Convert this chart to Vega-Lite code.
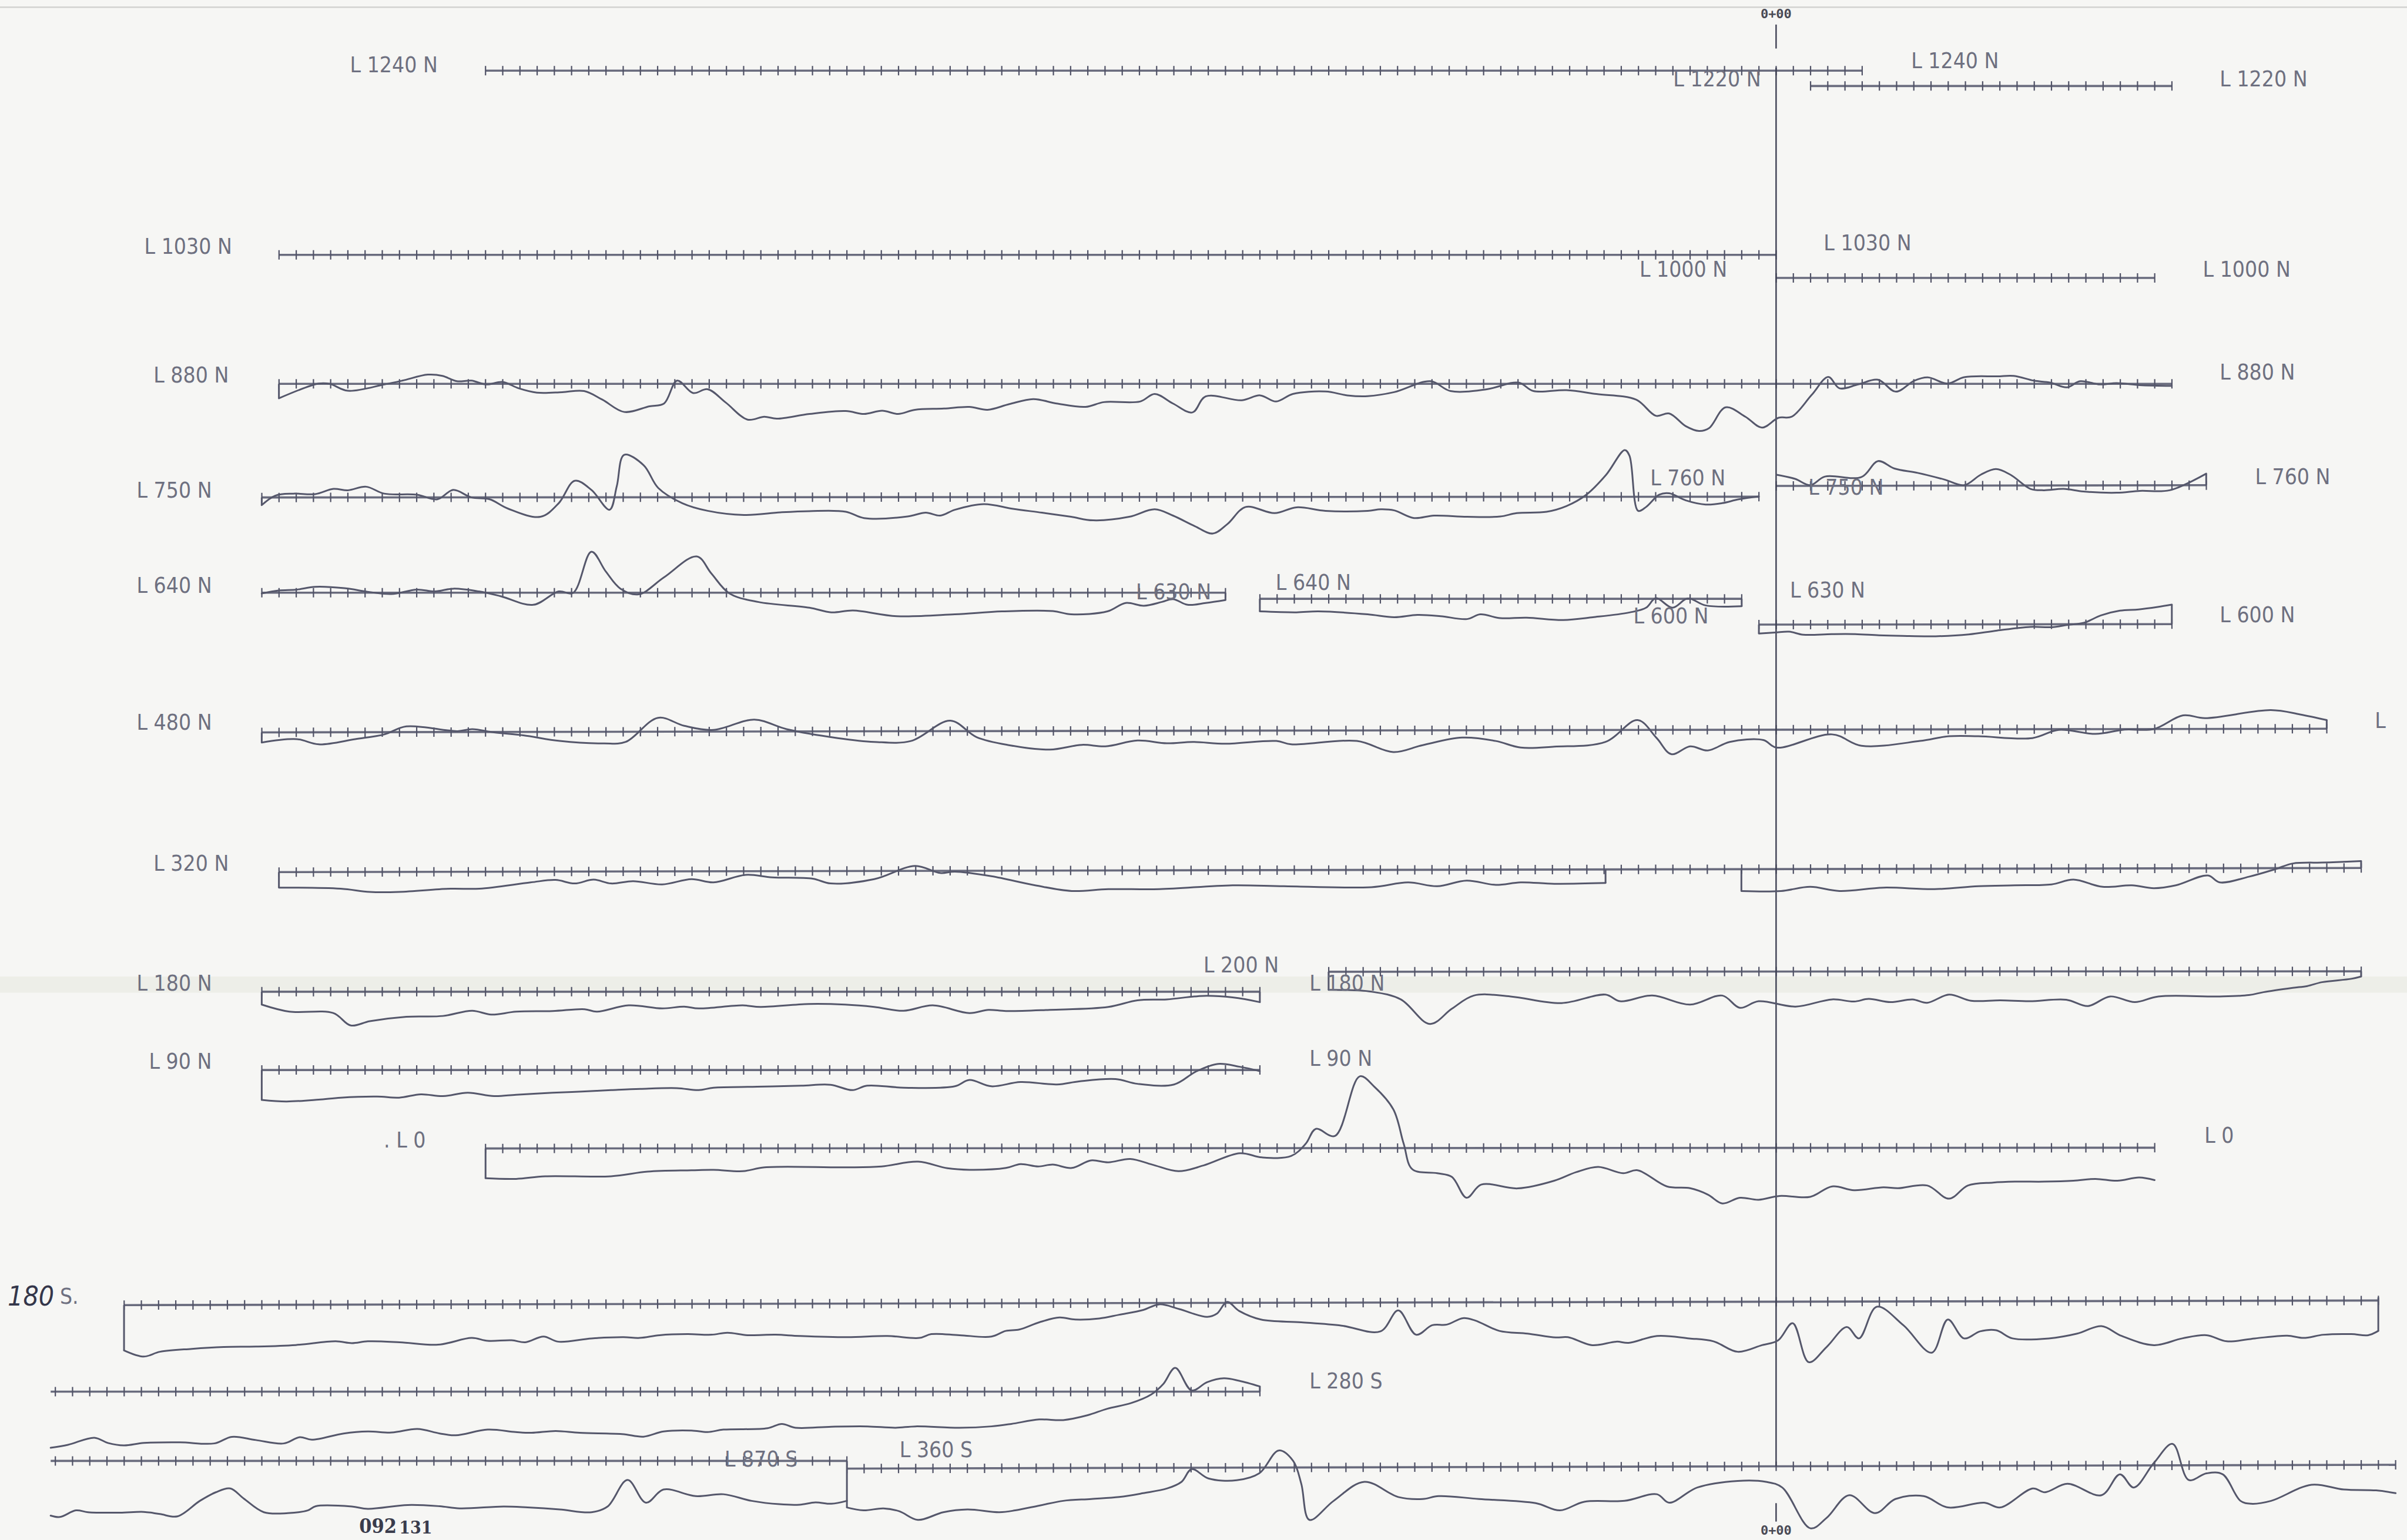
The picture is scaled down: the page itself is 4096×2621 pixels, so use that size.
{
"$schema":"https://vega.github.io/schema/vega-lite/v6.json",
"width":4096,"height":2621,
"autosize":{"type":"none"},
"padding":0,
"background":"#f6f6f4",
"config":{"view":{"stroke":null}},
"datasets":{
"base":[
{"x":316.3,"x2":1213.05,"y":46,"y2":46,"t":315.87,"t2":1213.5},
{"x":1179.4,"x2":1414.8,"y":56,"y2":56,"t":1179.04,"t2":1415.28},
{"x":181.7,"x2":1157,"y":166,"y2":166,"t":181.35,"t2":1157.45},
{"x":1157,"x2":1403.6,"y":181,"y2":181,"t":1156.62,"t2":1404.07},
{"x":181.7,"x2":1414.8,"y":250,"y2":250,"t":181.35,"t2":1415.28},
{"x":170.5,"x2":1145.8,"y":324,"y2":323.5,"t":170.14,"t2":1146.24},
{"x":1157,"x2":1437.2,"y":316.5,"y2":316,"t":1156.62,"t2":1437.7},
{"x":170.5,"x2":798.3,"y":386,"y2":386,"t":170.14,"t2":798.73},
{"x":820.7,"x2":1134.6,"y":390,"y2":390,"t":820.32,"t2":1135.03},
{"x":1145.8,"x2":1414.8,"y":406.8,"y2":406.5,"t":1145.41,"t2":1415.28},
{"x":170.5,"x2":1515.7,"y":477,"y2":474.6,"t":170.14,"t2":1516.17},
{"x":181.7,"x2":1538.1,"y":568,"y2":565.3,"t":181.35,"t2":1538.59},
{"x":170.5,"x2":820.7,"y":645.9,"y2":645.9,"t":170.14,"t2":821.15},
{"x":865.5,"x2":1538.1,"y":632.9,"y2":632.6,"t":865.16,"t2":1538.59},
{"x":170.5,"x2":820.7,"y":696.9,"y2":696.9,"t":170.14,"t2":821.15},
{"x":316.3,"x2":1403.6,"y":748,"y2":747.5,"t":315.87,"t2":1404.07},
{"x":80.8,"x2":1549.3,"y":850,"y2":847,"t":80.46,"t2":1549.8},
{"x":33,"x2":820.7,"y":906.4,"y2":906.4,"t":35.63,"t2":821.15},
{"x":33,"x2":551.7,"y":951.5,"y2":951.5,"t":35.63,"t2":552.11},
{"x":551.7,"x2":1560.6,"y":956.5,"y2":954,"t":551.28,"t2":1561.01}
],
"bars":[
{"x":181.7,"y":250,"y2":259.4},{"x":170.5,"y":324,"y2":329},{"x":1437.2,"y":308.5,"y2":316},{"x":798.3,"y":386,"y2":390.8},
{"x":820.7,"y":390,"y2":398.2},{"x":1134.6,"y":390,"y2":394.8},{"x":1145.8,"y":406.8,"y2":412.6},{"x":1414.8,"y":393.8,"y2":406.5},
{"x":170.5,"y":477,"y2":483.6},{"x":1515.7,"y":469,"y2":474.6},{"x":181.7,"y":568,"y2":578.1},{"x":1045.9,"y":566.3,"y2":575.1},
{"x":1134.4,"y":566.5,"y2":580.3},{"x":1538.1,"y":560.8,"y2":565.3},{"x":170.5,"y":645.9,"y2":654.3},{"x":820.7,"y":645.9,"y2":652.7},
{"x":865.5,"y":632.9,"y2":644.7},{"x":1538.1,"y":632.6,"y2":636},{"x":170.5,"y":696.9,"y2":716.4},{"x":316.3,"y":748,"y2":767.4},
{"x":80.8,"y":850,"y2":879.5},{"x":1549.3,"y":845,"y2":866.8},{"x":820.7,"y":903,"y2":906.4},{"x":551.7,"y":951.5,"y2":981.8}
],
"zero":[
{"x":1157,"y":16,"y2":31.6},
{"x":1157,"y":44,"y2":955},
{"x":1157,"y":979,"y2":991}
],
"labels":[
{"t":"L 1240 N","x":228,"y":43},{"t":"L 1240 N","x":1245,"y":40},
{"t":"L 1220 N","x":1090,"y":52},{"t":"L 1220 N","x":1446,"y":52},
{"t":"L 1030 N","x":94,"y":161},{"t":"L 1030 N","x":1188,"y":159},
{"t":"L 1000 N","x":1068,"y":176},{"t":"L 1000 N","x":1435,"y":176},
{"t":"L 880 N","x":100,"y":245},{"t":"L 880 N","x":1446,"y":243},
{"t":"L 750 N","x":89,"y":320},{"t":"L 750 N","x":1178,"y":318},
{"t":"L 760 N","x":1075,"y":312},{"t":"L 760 N","x":1469,"y":311},
{"t":"L 640 N","x":89,"y":382},{"t":"L 640 N","x":831,"y":380},
{"t":"L 630 N","x":740,"y":386},{"t":"L 630 N","x":1166,"y":385},
{"t":"L 600 N","x":1064,"y":402},{"t":"L 600 N","x":1446,"y":401},
{"t":"L 480 N","x":89,"y":471},{"t":"L","x":1547,"y":470},
{"t":"L 320 N","x":100,"y":563},
{"t":"L 180 N","x":89,"y":641},{"t":"L 180 N","x":853,"y":641},
{"t":"L 200 N","x":784,"y":629},
{"t":"L 90 N","x":97,"y":692},{"t":"L 90 N","x":853,"y":690},
{"t":". L 0","x":250,"y":743},{"t":"L 0","x":1436,"y":740},
{"t":"L 280 S","x":853,"y":900},
{"t":"L 870 S","x":472,"y":951},
{"t":"L 360 S","x":586,"y":945}
],
"curves":[
{"s":"E","x":181.7,"y":259.4},{"s":"E","x":207.7,"y":249.8},{"s":"E","x":214.8,"y":250},{"s":"E","x":226.6,"y":254.5},{"s":"E","x":250.3,"y":250.4},{"s":"E","x":262.1,"y":247.9},{"s":"E","x":278.7,"y":244},{"s":"E","x":288.2,"y":244.8},{"s":"E","x":297.6,"y":248.3},{"s":"E","x":307.1,"y":247.9},{"s":"E","x":316.6,"y":250.4},{"s":"E","x":327.5,"y":248.8},{"s":"E","x":337.9,"y":252.9},{"s":"E","x":349.7,"y":255.7},{"s":"E","x":366.3,"y":255.4},{"s":"E","x":380.5,"y":254.7},{"s":"E","x":392.4,"y":260.3},{"s":"E","x":406.6,"y":268.3},{"s":"E","x":423.1,"y":264.6},{"s":"E","x":432.6,"y":262.8},{"s":"E","x":441.1,"y":247.9},{"s":"E","x":451.5,"y":256},{"s":"E","x":461,"y":253.5},{"s":"E","x":472.8,"y":262.2},{"s":"E","x":487,"y":273.3},{"s":"E","x":497.9,"y":271.4},{"s":"E","x":506,"y":272.7},{"s":"E","x":527.3,"y":269.6},{"s":"E","x":551,"y":267.7},{"s":"E","x":562.8,"y":269.6},{"s":"E","x":574.7,"y":267.5},{"s":"E","x":585,"y":269.6},{"s":"E","x":596,"y":266.9},{"s":"E","x":614.9,"y":266.1},{"s":"E","x":631.5,"y":265},{"s":"E","x":643.3,"y":266.9},{"s":"E","x":657.5,"y":263.2},{"s":"E","x":673.1,"y":259.9},{"s":"E","x":688.3,"y":262.8},{"s":"E","x":707.2,"y":265},{"s":"E","x":719.1,"y":261.9},{"s":"E","x":742.7,"y":261.5},{"s":"E","x":752.2,"y":256.6},{"s":"E","x":764.1,"y":262.8},{"s":"E","x":776.8,"y":268.6},{"s":"E","x":785.4,"y":258.2},{"s":"E","x":809,"y":260.7},{"s":"E","x":820.9,"y":257.5},{"s":"E","x":831.3,"y":261.5},{"s":"E","x":842.2,"y":256.6},{"s":"E","x":863.5,"y":255},{"s":"E","x":877.7,"y":257.5},{"s":"E","x":890.9,"y":258},{"s":"E","x":908.2,"y":255.4},{"s":"E","x":931.9,"y":248.3},{"s":"E","x":944.9,"y":254.7},{"s":"E","x":968.6,"y":253.5},{"s":"E","x":989.3,"y":249.2},{"s":"E","x":998.9,"y":254.7},{"s":"E","x":1020.4,"y":254.1},{"s":"E","x":1039.9,"y":256.6},{"s":"E","x":1065.8,"y":260.3},{"s":"E","x":1078.7,"y":270.8},{"s":"E","x":1087.4,"y":269.3},{"s":"E","x":1098.2,"y":277.6},{"s":"E","x":1106.8,"y":280.7},{"s":"E","x":1113.3,"y":278.9},{"s":"E","x":1124.1,"y":265.3},{"s":"E","x":1137,"y":271.4},{"s":"E","x":1147.8,"y":278.5},{"s":"E","x":1158.6,"y":272.1},{"s":"E","x":1167.2,"y":271.4},{"s":"E","x":1180.2,"y":257.2},{"s":"E","x":1191,"y":245.5},{"s":"E","x":1198.3,"y":252.9},{"s":"E","x":1210.4,"y":250.4},{"s":"E","x":1223.4,"y":247.3},{"s":"E","x":1235,"y":255.1},{"s":"E","x":1247.1,"y":247.9},{"s":"E","x":1255.8,"y":245.8},{"s":"E","x":1268.7,"y":249.8},{"s":"E","x":1279.5,"y":245.7},{"s":"E","x":1301.1,"y":245.1},{"s":"E","x":1311.9,"y":244.8},{"s":"E","x":1324.9,"y":247.9},{"s":"E","x":1335.7,"y":249.2},{"s":"E","x":1346.4,"y":252.3},{"s":"E","x":1355.1,"y":248.3},{"s":"E","x":1368.1,"y":250.4},{"s":"E","x":1378.8,"y":249.5},{"s":"E","x":1394,"y":250.8},{"s":"E","x":1414.8,"y":251.3},
{"s":"F","x":170.5,"y":329},{"s":"F","x":179.3,"y":322.8},{"s":"F","x":191.1,"y":321.5},{"s":"F","x":205.3,"y":321.8},{"s":"F","x":217.2,"y":318.4},{"s":"F","x":226.6,"y":319.3},{"s":"F","x":238.5,"y":317},{"s":"F","x":250.3,"y":321.5},{"s":"F","x":271.6,"y":322.2},{"s":"F","x":284.9,"y":325.2},{"s":"F","x":295.3,"y":319.1},{"s":"F","x":307.1,"y":324},{"s":"F","x":319,"y":325.2},{"s":"F","x":330.8,"y":331.2},{"s":"F","x":352.1,"y":336.6},{"s":"F","x":364,"y":327.7},{"s":"F","x":374.4,"y":313.1},{"s":"F","x":385.3,"y":319.1},{"s":"F","x":397.1,"y":332},{"s":"F","x":401.8,"y":316.6},{"s":"F","x":406.6,"y":296.2},{"s":"F","x":419.3,"y":303},{"s":"F","x":428.8,"y":317.8},{"s":"F","x":444.4,"y":327.7},{"s":"F","x":461,"y":332.7},{"s":"F","x":484.7,"y":335.4},{"s":"F","x":508.4,"y":333.7},{"s":"F","x":527.3,"y":332.9},{"s":"F","x":551,"y":333.3},{"s":"F","x":562.8,"y":337.4},{"s":"F","x":591.2,"y":336.4},{"s":"F","x":603.1,"y":333.9},{"s":"F","x":612.5,"y":335.8},{"s":"F","x":622,"y":332},{"s":"F","x":640.9,"y":328.3},{"s":"F","x":659.9,"y":331.4},{"s":"F","x":678.8,"y":333.9},{"s":"F","x":697.8,"y":336.6},{"s":"F","x":712,"y":338.9},{"s":"F","x":735.6,"y":336.6},{"s":"F","x":752.2,"y":331.7},{"s":"F","x":764.1,"y":335.8},{"s":"F","x":778.2,"y":342.6},{"s":"F","x":790.1,"y":347.5},{"s":"F","x":799.6,"y":341.3},{"s":"F","x":811.4,"y":330.2},{"s":"F","x":830.3,"y":334.2},{"s":"F","x":844.6,"y":330.4},{"s":"F","x":863.5,"y":332.7},{"s":"F","x":890.9,"y":332.7},{"s":"F","x":899.5,"y":331.7},{"s":"F","x":908.2,"y":332.4},{"s":"F","x":921.1,"y":337.4},{"s":"F","x":934.1,"y":335.8},{"s":"F","x":955.7,"y":336.6},{"s":"F","x":977.3,"y":336.4},{"s":"F","x":988.1,"y":334.2},{"s":"F","x":1007.5,"y":333.3},{"s":"F","x":1020.4,"y":329.6},{"s":"F","x":1033.4,"y":322.2},{"s":"F","x":1046.3,"y":309.2},{"s":"F","x":1058.4,"y":293.1},{"s":"F","x":1061.5,"y":296.8},{"s":"F","x":1067.1,"y":332.7},{"s":"F","x":1072.3,"y":330.2},{"s":"F","x":1080.9,"y":322.2},{"s":"F","x":1087.4,"y":321.3},{"s":"F","x":1098.2,"y":325.9},{"s":"F","x":1111.1,"y":328.6},{"s":"F","x":1121.9,"y":327.7},{"s":"F","x":1132.7,"y":325.2},{"s":"F","x":1145.8,"y":323.4},
{"s":"G","x":1157.3,"y":309.2},{"s":"G","x":1169.4,"y":311.9},{"s":"G","x":1179.3,"y":316},{"s":"G","x":1188.8,"y":310.4},{"s":"G","x":1212.6,"y":310.7},{"s":"G","x":1223.4,"y":300.3},{"s":"G","x":1234.2,"y":305.2},{"s":"G","x":1249.3,"y":308},{"s":"G","x":1266.6,"y":312.3},{"s":"G","x":1279.5,"y":316},{"s":"G","x":1290.3,"y":309.2},{"s":"G","x":1300.2,"y":305.5},{"s":"G","x":1309.7,"y":309.2},{"s":"G","x":1322.7,"y":318.4},{"s":"G","x":1331.3,"y":319.3},{"s":"G","x":1344.3,"y":318.4},{"s":"G","x":1357.2,"y":320.1},{"s":"G","x":1378.8,"y":320.9},{"s":"G","x":1394,"y":319.7},{"s":"G","x":1413.4,"y":319.3},{"s":"G","x":1437.2,"y":308.5},
{"s":"H","x":170.5,"y":386.5},{"s":"H","x":181.6,"y":384.6},{"s":"H","x":193.5,"y":384},{"s":"H","x":205.3,"y":382.2},{"s":"H","x":224.3,"y":383.1},{"s":"H","x":240.8,"y":385.6},{"s":"H","x":255,"y":386.9},{"s":"H","x":271.6,"y":384},{"s":"H","x":283.4,"y":385.2},{"s":"H","x":295.3,"y":383.4},{"s":"H","x":311.9,"y":385.2},{"s":"H","x":326.1,"y":388.3},{"s":"H","x":347.4,"y":393.9},{"s":"H","x":364,"y":385.2},{"s":"H","x":373.4,"y":386.1},{"s":"H","x":385.3,"y":359.3},{"s":"H","x":394.7,"y":372.3},{"s":"H","x":404.2,"y":383.4},{"s":"H","x":416,"y":387.1},{"s":"H","x":432.6,"y":376},{"s":"H","x":453.9,"y":362.4},{"s":"H","x":463.4,"y":373.5},{"s":"H","x":475.2,"y":386.5},{"s":"H","x":494.2,"y":392.1},{"s":"H","x":527.3,"y":395.8},{"s":"H","x":541.5,"y":398.8},{"s":"H","x":555.7,"y":397.6},{"s":"H","x":584.1,"y":401.3},{"s":"H","x":622,"y":400.1},{"s":"H","x":652.8,"y":398.2},{"s":"H","x":685.9,"y":398},{"s":"H","x":697.8,"y":400.1},{"s":"H","x":721.4,"y":398.2},{"s":"H","x":733.3,"y":392.7},{"s":"H","x":745.1,"y":394.5},{"s":"H","x":757,"y":392},{"s":"H","x":764.1,"y":390.2},{"s":"H","x":773.6,"y":393.9},{"s":"H","x":785.4,"y":392.7},{"s":"H","x":798.3,"y":390.8},
{"s":"I","x":820.7,"y":398.2},{"s":"I","x":844.6,"y":398.8},{"s":"I","x":858.8,"y":398.2},{"s":"I","x":890.9,"y":400.1},{"s":"I","x":908.2,"y":402},{"s":"I","x":923.3,"y":400.5},{"s":"I","x":938.4,"y":401.3},{"s":"I","x":955.7,"y":403.2},{"s":"I","x":964.3,"y":400.1},{"s":"I","x":977.3,"y":402.6},{"s":"I","x":994.5,"y":402.3},{"s":"I","x":1018.3,"y":403.8},{"s":"I","x":1037.7,"y":402},{"s":"I","x":1061.5,"y":398.9},{"s":"I","x":1072.3,"y":395.8},{"s":"I","x":1078.7,"y":389.6},{"s":"I","x":1089.5,"y":395.8},{"s":"I","x":1099.5,"y":389.8},{"s":"I","x":1111.1,"y":394.3},{"s":"I","x":1134.6,"y":394.8},
{"s":"J","x":1145.8,"y":412.6},{"s":"J","x":1156.3,"y":412},{"s":"J","x":1165.5,"y":411.4},{"s":"J","x":1174.7,"y":413.4},{"s":"J","x":1193.2,"y":413},{"s":"J","x":1208.6,"y":413},{"s":"J","x":1224,"y":413.8},{"s":"J","x":1239.4,"y":414.2},{"s":"J","x":1260.9,"y":414.4},{"s":"J","x":1282.5,"y":413.2},{"s":"J","x":1300.9,"y":410.7},{"s":"J","x":1322.5,"y":408.3},{"s":"J","x":1336.3,"y":408.5},{"s":"J","x":1347.1,"y":407},{"s":"J","x":1357.9,"y":405.5},{"s":"J","x":1368.6,"y":400.8},{"s":"J","x":1381,"y":397.7},{"s":"J","x":1393.2,"y":396.9},{"s":"J","x":1405.6,"y":395.3},{"s":"J","x":1414.8,"y":393.8},
{"s":"K","x":170.5,"y":483.6},{"s":"K","x":193.3,"y":481.4},{"s":"K","x":207.6,"y":484.8},{"s":"K","x":231.4,"y":481.4},{"s":"K","x":250.4,"y":478.3},{"s":"K","x":264.7,"y":473.1},{"s":"K","x":298,"y":476.2},{"s":"K","x":307.6,"y":474.9},{"s":"K","x":321.9,"y":477},{"s":"K","x":340.9,"y":478.9},{"s":"K","x":364.7,"y":482.6},{"s":"K","x":393.3,"y":484.2},{"s":"K","x":407.6,"y":483.2},{"s":"K","x":428.6,"y":467.5},{"s":"K","x":445.7,"y":472.7},{"s":"K","x":464.8,"y":475.4},{"s":"K","x":491.4,"y":468.7},{"s":"K","x":512.4,"y":474.9},{"s":"K","x":545.7,"y":480.7},{"s":"K","x":569.5,"y":483.2},{"s":"K","x":593.4,"y":482.6},{"s":"K","x":619.1,"y":469.4},{"s":"K","x":636.2,"y":480.1},{"s":"K","x":657.2,"y":485.3},{"s":"K","x":683.9,"y":488.2},{"s":"K","x":704.8,"y":485.1},{"s":"K","x":720.1,"y":486.1},{"s":"K","x":741,"y":482.3},{"s":"K","x":760.1,"y":484.1},{"s":"K","x":777.2,"y":483.2},{"s":"K","x":798.2,"y":484.4},{"s":"K","x":831.5,"y":482.6},{"s":"K","x":841.1,"y":484.8},{"s":"K","x":883.9,"y":482.6},{"s":"K","x":907.7,"y":489.8},{"s":"K","x":926.8,"y":485.3},{"s":"K","x":952.5,"y":480.4},{"s":"K","x":974.4,"y":482.6},{"s":"K","x":990.6,"y":486.9},{"s":"K","x":1012.5,"y":486.3},{"s":"K","x":1045.9,"y":483.2},{"s":"K","x":1066.8,"y":469},{"s":"K","x":1079.2,"y":480.7},{"s":"K","x":1088.7,"y":491.2},{"s":"K","x":1101.1,"y":486.1},{"s":"K","x":1112.5,"y":488.8},{"s":"K","x":1126.8,"y":483.2},{"s":"K","x":1148.7,"y":482},{"s":"K","x":1157.3,"y":486.9},{"s":"K","x":1193.5,"y":478.3},{"s":"K","x":1212.6,"y":485.7},{"s":"K","x":1250.7,"y":482.6},{"s":"K","x":1269.7,"y":479.5},{"s":"K","x":1288.8,"y":479.5},{"s":"K","x":1324,"y":480.7},{"s":"K","x":1341.1,"y":475.4},{"s":"K","x":1365,"y":478},{"s":"K","x":1384,"y":475.2},{"s":"K","x":1403.1,"y":474.8},{"s":"K","x":1422.1,"y":465.9},{"s":"K","x":1436.4,"y":467.7},{"s":"K","x":1479.3,"y":462.5},{"s":"K","x":1498.4,"y":465.3},{"s":"K","x":1515.7,"y":469},
{"s":"L","x":181.7,"y":578.1},{"s":"L","x":221.9,"y":578.8},{"s":"L","x":240.9,"y":580.9},{"s":"L","x":260,"y":580.9},{"s":"L","x":293.3,"y":578.8},{"s":"L","x":312.4,"y":578.8},{"s":"L","x":345.7,"y":574.7},{"s":"L","x":361.9,"y":573.1},{"s":"L","x":374.3,"y":575.4},{"s":"L","x":386.7,"y":572.9},{"s":"L","x":398.1,"y":575.4},{"s":"L","x":412.4,"y":573.9},{"s":"L","x":431.4,"y":576},{"s":"L","x":450.5,"y":572.6},{"s":"L","x":464.8,"y":574.7},{"s":"L","x":485.7,"y":569.8},{"s":"L","x":502.9,"y":571.4},{"s":"L","x":529.5,"y":572.3},{"s":"L","x":541,"y":575.4},{"s":"L","x":569.5,"y":572.6},{"s":"L","x":596.2,"y":564},{"s":"L","x":612.4,"y":568.6},{"s":"L","x":622,"y":567.7},{"s":"L","x":645.8,"y":570.7},{"s":"L","x":674.3,"y":576.6},{"s":"L","x":698.2,"y":580.3},{"s":"L","x":722,"y":579.1},{"s":"L","x":755.3,"y":579.1},{"s":"L","x":802.9,"y":576.6},{"s":"L","x":836.3,"y":577.2},{"s":"L","x":893.4,"y":577.8},{"s":"L","x":917.3,"y":574.7},{"s":"L","x":936.3,"y":577.2},{"s":"L","x":955.4,"y":573.5},{"s":"L","x":974.4,"y":576.3},{"s":"L","x":990.6,"y":574.7},{"s":"L","x":1012.5,"y":575.6},{"s":"L","x":1045.9,"y":575.1},
{"s":"M","x":1134.4,"y":580.3},{"s":"M","x":1160.2,"y":580.3},{"s":"M","x":1179.2,"y":577.6},{"s":"M","x":1198.3,"y":580.3},{"s":"M","x":1226.9,"y":578.1},{"s":"M","x":1260.2,"y":579.1},{"s":"M","x":1288.8,"y":577.2},{"s":"M","x":1312.6,"y":576.6},{"s":"M","x":1336.4,"y":576},{"s":"M","x":1350.7,"y":572.9},{"s":"M","x":1369.7,"y":577.6},{"s":"M","x":1388.8,"y":576.6},{"s":"M","x":1403.1,"y":578.5},{"s":"M","x":1417.4,"y":576.6},{"s":"M","x":1438.3,"y":570.2},{"s":"M","x":1446,"y":574.7},{"s":"M","x":1465,"y":571},{"s":"M","x":1482.2,"y":566.1},{"s":"M","x":1493.6,"y":562.4},{"s":"M","x":1512.6,"y":561.8},{"s":"M","x":1522.1,"y":561.5},{"s":"M","x":1538.1,"y":560.8},
{"s":"N","x":170.5,"y":654.3},{"s":"N","x":188.5,"y":658.9},{"s":"N","x":217.1,"y":659.8},{"s":"N","x":228.5,"y":667.9},{"s":"N","x":240.9,"y":665.1},{"s":"N","x":264.7,"y":662.2},{"s":"N","x":288.5,"y":661.7},{"s":"N","x":307.6,"y":658.3},{"s":"N","x":320,"y":660.8},{"s":"N","x":336.2,"y":658.9},{"s":"N","x":360,"y":658.5},{"s":"N","x":380.9,"y":657.3},{"s":"N","x":388.6,"y":658.9},{"s":"N","x":409.5,"y":654.8},{"s":"N","x":431.4,"y":656.8},{"s":"N","x":445.7,"y":655.6},{"s":"N","x":455.2,"y":656.8},{"s":"N","x":483.8,"y":654.8},{"s":"N","x":495.3,"y":655.8},{"s":"N","x":526.7,"y":653.9},{"s":"N","x":550.5,"y":654.3},{"s":"N","x":569.5,"y":655.8},{"s":"N","x":588.6,"y":658.3},{"s":"N","x":607.6,"y":654.8},{"s":"N","x":631.5,"y":659.8},{"s":"N","x":643.9,"y":657.7},{"s":"N","x":655.3,"y":658.5},{"s":"N","x":683.9,"y":657.7},{"s":"N","x":722,"y":655.8},{"s":"N","x":741,"y":651.5},{"s":"N","x":760.1,"y":650.9},{"s":"N","x":783.9,"y":648.6},{"s":"N","x":802.9,"y":649.6},{"s":"N","x":820.7,"y":652.7},
{"s":"O","x":865.5,"y":644.7},{"s":"O","x":893.5,"y":645.9},{"s":"O","x":912.5,"y":650.9},{"s":"O","x":931.5,"y":666.9},{"s":"O","x":945.8,"y":657},{"s":"O","x":960.1,"y":648.4},{"s":"O","x":984,"y":649},{"s":"O","x":1017.3,"y":653.3},{"s":"O","x":1045.9,"y":647.8},{"s":"O","x":1055.3,"y":652.1},{"s":"O","x":1076.3,"y":648.4},{"s":"O","x":1101,"y":654.3},{"s":"O","x":1122,"y":648.4},{"s":"O","x":1133.4,"y":656.4},{"s":"O","x":1145.6,"y":652.1},{"s":"O","x":1169.7,"y":655.6},{"s":"O","x":1193.5,"y":650.9},{"s":"O","x":1207.8,"y":652.3},{"s":"O","x":1217.3,"y":650.6},{"s":"O","x":1231.6,"y":652.7},{"s":"O","x":1245.9,"y":650.9},{"s":"O","x":1255.4,"y":653.1},{"s":"O","x":1269.7,"y":647.8},{"s":"O","x":1284,"y":651.8},{"s":"O","x":1303.1,"y":651.5},{"s":"O","x":1322.2,"y":652.1},{"s":"O","x":1346,"y":651.1},{"s":"O","x":1360.2,"y":655.2},{"s":"O","x":1374.6,"y":649},{"s":"O","x":1390.7,"y":652.7},{"s":"O","x":1406,"y":649},{"s":"O","x":1446,"y":649},{"s":"O","x":1465,"y":648.1},{"s":"O","x":1474.5,"y":646.2},{"s":"O","x":1493.6,"y":643.4},{"s":"O","x":1503.1,"y":642.2},{"s":"O","x":1512.6,"y":639.7},{"s":"O","x":1531.7,"y":637.5},{"s":"O","x":1538.1,"y":636},
{"s":"P","x":170.5,"y":716.4},{"s":"P","x":186.6,"y":717.4},{"s":"P","x":207.6,"y":716.2},{"s":"P","x":221.9,"y":714.9},{"s":"P","x":245.7,"y":714.2},{"s":"P","x":260,"y":714.9},{"s":"P","x":274.2,"y":712.7},{"s":"P","x":288.5,"y":713.9},{"s":"P","x":304.7,"y":711.7},{"s":"P","x":321.9,"y":713.9},{"s":"P","x":336.2,"y":713},{"s":"P","x":360,"y":711.7},{"s":"P","x":379,"y":710.9},{"s":"P","x":398.1,"y":710},{"s":"P","x":417.1,"y":709.2},{"s":"P","x":440.9,"y":708.7},{"s":"P","x":455.2,"y":710},{"s":"P","x":464.8,"y":708.4},{"s":"P","x":493.3,"y":707.8},{"s":"P","x":521.9,"y":707.1},{"s":"P","x":541,"y":706.5},{"s":"P","x":555.3,"y":710},{"s":"P","x":564.8,"y":707.1},{"s":"P","x":588.6,"y":708.4},{"s":"P","x":622,"y":707.5},{"s":"P","x":631.5,"y":703.4},{"s":"P","x":645.8,"y":707.5},{"s":"P","x":664.8,"y":704.7},{"s":"P","x":688.6,"y":706.3},{"s":"P","x":702.9,"y":704.3},{"s":"P","x":726.7,"y":702.8},{"s":"P","x":741,"y":705.9},{"s":"P","x":764.8,"y":706.3},{"s":"P","x":779.1,"y":697.9},{"s":"P","x":793.4,"y":692.9},{"s":"P","x":807.7,"y":694.8},{"s":"P","x":820.7,"y":697.6},
{"s":"Q","x":316.3,"y":767.4},{"s":"Q","x":336.2,"y":767.8},{"s":"Q","x":355.2,"y":766.1},{"s":"Q","x":398.1,"y":766.1},{"s":"Q","x":421.9,"y":763.1},{"s":"Q","x":450.5,"y":762.2},{"s":"Q","x":464.8,"y":761.9},{"s":"Q","x":483.8,"y":762.8},{"s":"Q","x":498.1,"y":760.3},{"s":"Q","x":550.5,"y":760.3},{"s":"Q","x":574.3,"y":759.7},{"s":"Q","x":598.1,"y":756.6},{"s":"Q","x":617.2,"y":760.9},{"s":"Q","x":631.5,"y":761.9},{"s":"Q","x":655.3,"y":760.7},{"s":"Q","x":664.8,"y":758.2},{"s":"Q","x":676.3,"y":759.7},{"s":"Q","x":685.8,"y":758.5},{"s":"Q","x":698.2,"y":760.7},{"s":"Q","x":710.6,"y":755.8},{"s":"Q","x":722,"y":757},{"s":"Q","x":736.3,"y":754.8},{"s":"Q","x":750.6,"y":758.5},{"s":"Q","x":767.7,"y":762.8},{"s":"Q","x":783.9,"y":759.1},{"s":"Q","x":807.7,"y":751.1},{"s":"Q","x":822,"y":753.8},{"s":"Q","x":841.1,"y":752.9},{"s":"Q","x":850.6,"y":744.9},{"s":"Q","x":857.2,"y":735.2},{"s":"Q","x":869.6,"y":739.9},{"s":"Q","x":885.8,"y":701},{"s":"Q","x":895.3,"y":707.8},{"s":"Q","x":907.7,"y":722.6},{"s":"Q","x":914.4,"y":744.9},{"s":"Q","x":920.1,"y":761.6},{"s":"Q","x":936.3,"y":764.1},{"s":"Q","x":945.8,"y":766.5},{"s":"Q","x":955.4,"y":780.1},{"s":"Q","x":964.9,"y":771.5},{"s":"Q","x":988.7,"y":774},{"s":"Q","x":1012.5,"y":769},{"s":"Q","x":1026.8,"y":763.4},{"s":"Q","x":1041.1,"y":760},{"s":"Q","x":1057.3,"y":764.1},{"s":"Q","x":1066.8,"y":762.2},{"s":"Q","x":1085.9,"y":772.7},{"s":"Q","x":1101,"y":773.9},{"s":"Q","x":1112.5,"y":778},{"s":"Q","x":1122,"y":783.8},{"s":"Q","x":1133.4,"y":780.1},{"s":"Q","x":1145.6,"y":781.4},{"s":"Q","x":1159.2,"y":778.9},{"s":"Q","x":1179.2,"y":779.5},{"s":"Q","x":1193.5,"y":772.7},{"s":"Q","x":1207.8,"y":775.2},{"s":"Q","x":1226.9,"y":773.3},{"s":"Q","x":1236.4,"y":773.9},{"s":"Q","x":1255.4,"y":772.1},{"s":"Q","x":1269.7,"y":780.7},{"s":"Q","x":1282,"y":772.1},{"s":"Q","x":1298.3,"y":770.2},{"s":"Q","x":1312.6,"y":769.6},{"s":"Q","x":1331.6,"y":769.6},{"s":"Q","x":1350.7,"y":769},{"s":"Q","x":1365,"y":767.8},{"s":"Q","x":1379.3,"y":769},{"s":"Q","x":1393.5,"y":766.9},{"s":"Q","x":1403.6,"y":768.6},
{"s":"R","x":80.8,"y":879.5},{"s":"R","x":93.7,"y":883.5},{"s":"R","x":104.2,"y":880.4},{"s":"R","x":125,"y":878.5},{"s":"R","x":145.8,"y":877.3},{"s":"R","x":166.7,"y":877},{"s":"R","x":192.7,"y":876},{"s":"R","x":218.7,"y":873.6},{"s":"R","x":229.2,"y":874.8},{"s":"R","x":239.6,"y":873.6},{"s":"R","x":260.4,"y":874.2},{"s":"R","x":285.4,"y":875.8},{"s":"R","x":307.3,"y":871.4},{"s":"R","x":317.7,"y":873.3},{"s":"R","x":333.3,"y":872.9},{"s":"R","x":342.2,"y":874.2},{"s":"R","x":354.1,"y":870.5},{"s":"R","x":363.5,"y":873.8},{"s":"R","x":385.4,"y":871.7},{"s":"R","x":406.2,"y":870.9},{"s":"R","x":416.6,"y":871.4},{"s":"R","x":429.7,"y":869.6},{"s":"R","x":447.9,"y":868.9},{"s":"R","x":463.5,"y":869.3},{"s":"R","x":473.9,"y":868},{"s":"R","x":486.9,"y":869.6},{"s":"R","x":505.2,"y":869.3},{"s":"R","x":520.8,"y":870.1},{"s":"R","x":552,"y":870.9},{"s":"R","x":578.1,"y":870.1},{"s":"R","x":598.9,"y":871.4},{"s":"R","x":606.7,"y":868.9},{"s":"R","x":625,"y":869.6},{"s":"R","x":645.8,"y":870.5},{"s":"R","x":655.2,"y":866.8},{"s":"R","x":664,"y":865.9},{"s":"R","x":677,"y":861.2},{"s":"R","x":690.1,"y":858.1},{"s":"R","x":700.5,"y":859.4},{"s":"R","x":716.1,"y":858.7},{"s":"R","x":729.1,"y":856.3},{"s":"R","x":744.7,"y":853.2},{"s":"R","x":755.2,"y":849.5},{"s":"R","x":768.2,"y":852.6},{"s":"R","x":786.4,"y":857.7},{"s":"R","x":792.7,"y":855.6},{"s":"R","x":799.4,"y":847.9},{"s":"R","x":807.2,"y":853.8},{"s":"R","x":821.4,"y":859.4},{"s":"R","x":847.7,"y":861.2},{"s":"R","x":874,"y":863.4},{"s":"R","x":899.3,"y":867.1},{"s":"R","x":910.9,"y":853.5},{"s":"R","x":922.5,"y":869.3},{"s":"R","x":933,"y":863.1},{"s":"R","x":942.5,"y":862.7},{"s":"R","x":953,"y":858.5},{"s":"R","x":960.9,"y":860},{"s":"R","x":976.7,"y":866.8},{"s":"R","x":995.1,"y":868.6},{"s":"R","x":1013.5,"y":871.1},{"s":"R","x":1021.4,"y":870.9},{"s":"R","x":1037.2,"y":876.1},{"s":"R","x":1053,"y":873.8},{"s":"R","x":1060.9,"y":874.6},{"s":"R","x":1079.4,"y":870.1},{"s":"R","x":1100.4,"y":871.7},{"s":"R","x":1116.2,"y":873.6},{"s":"R","x":1132,"y":880.4},{"s":"R","x":1147.8,"y":876.1},{"s":"R","x":1158.3,"y":873},{"s":"R","x":1167.8,"y":861.8},{"s":"R","x":1178.3,"y":887.2},{"s":"R","x":1189.9,"y":877.3},{"s":"R","x":1203.1,"y":864.3},{"s":"R","x":1211,"y":871.7},{"s":"R","x":1222.6,"y":851.1},{"s":"R","x":1239.9,"y":863.1},{"s":"R","x":1258.4,"y":881},{"s":"R","x":1268.9,"y":859.4},{"s":"R","x":1279.4,"y":871.7},{"s":"R","x":1289.9,"y":867.1},{"s":"R","x":1300.4,"y":866.4},{"s":"R","x":1311,"y":871.7},{"s":"R","x":1334.7,"y":871.7},{"s":"R","x":1353.1,"y":868.6},{"s":"R","x":1369,"y":863.7},{"s":"R","x":1382.1,"y":870.1},{"s":"R","x":1403.2,"y":876.1},{"s":"R","x":1421.6,"y":871.7},{"s":"R","x":1437.4,"y":869.6},{"s":"R","x":1450.6,"y":873.6},{"s":"R","x":1468.9,"y":871.7},{"s":"R","x":1490,"y":869.9},{"s":"R","x":1500.6,"y":871.4},{"s":"R","x":1513.6,"y":869.3},{"s":"R","x":1531.8,"y":868.9},{"s":"R","x":1542.7,"y":869.6},{"s":"R","x":1549.3,"y":866.8},
{"s":"S","x":33,"y":942.9},{"s":"S","x":44.3,"y":941},{"s":"S","x":61.5,"y":936.4},{"s":"S","x":70.3,"y":939.8},{"s":"S","x":80.7,"y":941.4},{"s":"S","x":93.7,"y":939.8},{"s":"S","x":117.2,"y":939.4},{"s":"S","x":139.6,"y":940.1},{"s":"S","x":151,"y":935.8},{"s":"S","x":166.7,"y":937.9},{"s":"S","x":184.9,"y":940.1},{"s":"S","x":195.3,"y":936},{"s":"S","x":203.1,"y":937.7},{"s":"S","x":223.9,"y":933.6},{"s":"S","x":239.6,"y":932.3},{"s":"S","x":255.2,"y":933},{"s":"S","x":271.9,"y":930.7},{"s":"S","x":286.4,"y":933.6},{"s":"S","x":296.9,"y":934.8},{"s":"S","x":317.7,"y":931.1},{"s":"S","x":335.9,"y":932.7},{"s":"S","x":346.3,"y":933.2},{"s":"S","x":362,"y":932},{"s":"S","x":377.6,"y":933.2},{"s":"S","x":405.2,"y":934},{"s":"S","x":419.2,"y":935.7},{"s":"S","x":432.3,"y":932.3},{"s":"S","x":450.5,"y":931.7},{"s":"S","x":460.9,"y":932.7},{"s":"S","x":471.3,"y":931.1},{"s":"S","x":500,"y":930.2},{"s":"S","x":509.3,"y":927.4},{"s":"S","x":518.2,"y":929.9},{"s":"S","x":541.6,"y":929.2},{"s":"S","x":565.1,"y":929},{"s":"S","x":583.3,"y":929.9},{"s":"S","x":596.3,"y":929},{"s":"S","x":625,"y":929.9},{"s":"S","x":645.8,"y":929},{"s":"S","x":658.8,"y":927.4},{"s":"S","x":677,"y":924.5},{"s":"S","x":692.6,"y":924.9},{"s":"S","x":708.3,"y":921.8},{"s":"S","x":721.3,"y":917.5},{"s":"S","x":736.9,"y":913.8},{"s":"S","x":750,"y":908.2},{"s":"S","x":757.8,"y":901.4},{"s":"S","x":765.6,"y":890.9},{"s":"S","x":776.3,"y":905.6},{"s":"S","x":786.4,"y":900.2},{"s":"S","x":797.3,"y":897.7},{"s":"S","x":807.2,"y":899.3},{"s":"S","x":820.7,"y":903},
{"s":"T","x":33,"y":987.1},{"s":"T","x":39.1,"y":988},{"s":"T","x":49.5,"y":983.7},{"s":"T","x":57.3,"y":984.9},{"s":"T","x":78.1,"y":985.2},{"s":"T","x":93.7,"y":984.7},{"s":"T","x":104.2,"y":986.1},{"s":"T","x":115.6,"y":987.6},{"s":"T","x":130.2,"y":977.5},{"s":"T","x":140.6,"y":971.9},{"s":"T","x":150,"y":969.4},{"s":"T","x":158.8,"y":976},{"s":"T","x":171.9,"y":984.9},{"s":"T","x":187.5,"y":985.5},{"s":"T","x":200.5,"y":983.7},{"s":"T","x":205.7,"y":981},{"s":"T","x":229.2,"y":981.2},{"s":"T","x":239.6,"y":982.7},{"s":"T","x":265.6,"y":980.2},{"s":"T","x":286.4,"y":981},{"s":"T","x":299.5,"y":982.4},{"s":"T","x":328.1,"y":981.2},{"s":"T","x":343.7,"y":981.8},{"s":"T","x":364.6,"y":983.1},{"s":"T","x":385.4,"y":984.9},{"s":"T","x":395.8,"y":981.2},{"s":"T","x":408.8,"y":963.9},{"s":"T","x":420.8,"y":978.7},{"s":"T","x":432.3,"y":970.1},{"s":"T","x":453.1,"y":974.4},{"s":"T","x":471.3,"y":973.2},{"s":"T","x":489.6,"y":977.5},{"s":"T","x":507.8,"y":979.7},{"s":"T","x":520.8,"y":980},{"s":"T","x":531.2,"y":978.5},{"s":"T","x":541.6,"y":979.4},{"s":"T","x":551.7,"y":977.5},
{"s":"U","x":551.7,"y":981.8},{"s":"U","x":562.5,"y":983.7},{"s":"U","x":575.5,"y":982.4},{"s":"U","x":585.9,"y":984.3},{"s":"U","x":597.9,"y":989.9},{"s":"U","x":614.5,"y":984.9},{"s":"U","x":630.2,"y":983.1},{"s":"U","x":651,"y":984.9},{"s":"U","x":661.4,"y":983.7},{"s":"U","x":677,"y":980.6},{"s":"U","x":692.6,"y":977.5},{"s":"U","x":710.9,"y":976.3},{"s":"U","x":729.1,"y":975},{"s":"U","x":744.7,"y":972.5},{"s":"U","x":760.4,"y":969.4},{"s":"U","x":769.7,"y":965.1},{"s":"U","x":776.3,"y":956.8},{"s":"U","x":787.2,"y":962.9},{"s":"U","x":805.6,"y":964.1},{"s":"U","x":820.3,"y":959.6},{"s":"U","x":833,"y":944.7},{"s":"U","x":842.4,"y":951.5},{"s":"U","x":847.7,"y":966.4},{"s":"U","x":853,"y":989.9},{"s":"U","x":868.8,"y":977.5},{"s":"U","x":888.8,"y":965.1},{"s":"U","x":910.9,"y":975},{"s":"U","x":926.7,"y":976.3},{"s":"U","x":937.2,"y":974.4},{"s":"U","x":963.5,"y":976.3},{"s":"U","x":1000.4,"y":979},{"s":"U","x":1016.2,"y":983.7},{"s":"U","x":1032,"y":978.1},{"s":"U","x":1058.3,"y":977.5},{"s":"U","x":1079.4,"y":973.2},{"s":"U","x":1087.3,"y":978.7},{"s":"U","x":1105.7,"y":968.8},{"s":"U","x":1132,"y":964.5},{"s":"U","x":1150.4,"y":965.1},{"s":"U","x":1161,"y":968.8},{"s":"U","x":1179.4,"y":995.4},{"s":"U","x":1189.9,"y":988.6},{"s":"U","x":1204.7,"y":973.8},{"s":"U","x":1221.5,"y":985.5},{"s":"U","x":1234.7,"y":976.3},{"s":"U","x":1253.1,"y":974.4},{"s":"U","x":1268.9,"y":981.8},{"s":"U","x":1292.6,"y":978.7},{"s":"U","x":1303.1,"y":981.8},{"s":"U","x":1324.2,"y":969.4},{"s":"U","x":1332.1,"y":971.9},{"s":"U","x":1346.8,"y":966.4},{"s":"U","x":1369,"y":973.8},{"s":"U","x":1381,"y":960.2},{"s":"U","x":1390,"y":968.8},{"s":"U","x":1403.2,"y":952.7},{"s":"U","x":1415.3,"y":940.4},{"s":"U","x":1425.8,"y":963.9},{"s":"U","x":1437.4,"y":959.6},{"s":"U","x":1447.9,"y":960.2},{"s":"U","x":1459.5,"y":977.5},{"s":"U","x":1466.4,"y":979.4},{"s":"U","x":1479.5,"y":977.5},{"s":"U","x":1505.8,"y":967},{"s":"U","x":1526.8,"y":970.1},{"s":"U","x":1547.9,"y":970.7},{"s":"U","x":1560.6,"y":972.5}
]
},
"layer":[
{"data":{"values":[{"x":0,"x2":1568,"y":636,"y2":646.5}]},
 "mark":{"type":"rect","fill":"#e8e9e0","opacity":0.6},
 "encoding":{"x":{"field":"x","type":"quantitative","scale":{"domain":[0,1568],"nice":false,"zero":false},"axis":null},"x2":{"field":"x2"},
  "y":{"field":"y","type":"quantitative","scale":{"domain":[0,1003],"nice":false,"zero":false,"reverse":true},"axis":null},"y2":{"field":"y2"}}},
{"data":{"values":[{"x":0,"x2":1568,"y":4.7,"y2":4.7}]},
 "mark":{"type":"rule","stroke":"#d2d2d0","strokeWidth":2.5},
 "encoding":{"x":{"field":"x","type":"quantitative","scale":{"domain":[0,1568],"nice":false,"zero":false},"axis":null},"x2":{"field":"x2"},
  "y":{"field":"y","type":"quantitative","scale":{"domain":[0,1003],"nice":false,"zero":false,"reverse":true},"axis":null},"y2":{"field":"y2"}}},
{"data":{"name":"base"},
 "mark":{"type":"rule","stroke":"#5a5c70","strokeWidth":3.6,"opacity":0.9},
 "encoding":{"x":{"field":"x","type":"quantitative","scale":{"domain":[0,1568],"nice":false,"zero":false},"axis":null},"x2":{"field":"x2"},
  "y":{"field":"y","type":"quantitative","scale":{"domain":[0,1003],"nice":false,"zero":false,"reverse":true},"axis":null},"y2":{"field":"y2"}}},
{"data":{"name":"base"},
 "mark":{"type":"rule","stroke":"#505266","strokeWidth":16,"strokeCap":"butt","strokeDash":[2.2,27.0832]},
 "encoding":{"x":{"field":"t","type":"quantitative","scale":{"domain":[0,1568],"nice":false,"zero":false},"axis":null},"x2":{"field":"t2"},
  "y":{"field":"y","type":"quantitative","scale":{"domain":[0,1003],"nice":false,"zero":false,"reverse":true},"axis":null},"y2":{"field":"y2"}}},
{"data":{"name":"zero"},
 "mark":{"type":"rule","stroke":"#3d3f52","strokeWidth":2.4},
 "encoding":{"x":{"field":"x","type":"quantitative","scale":{"domain":[0,1568],"nice":false,"zero":false},"axis":null},
  "y":{"field":"y","type":"quantitative","scale":{"domain":[0,1003],"nice":false,"zero":false,"reverse":true},"axis":null},"y2":{"field":"y2"}}},
{"data":{"name":"bars"},
 "mark":{"type":"rule","stroke":"#55576b","strokeWidth":3},
 "encoding":{"x":{"field":"x","type":"quantitative","scale":{"domain":[0,1568],"nice":false,"zero":false},"axis":null},
  "y":{"field":"y","type":"quantitative","scale":{"domain":[0,1003],"nice":false,"zero":false,"reverse":true},"axis":null},"y2":{"field":"y2"}}},
{"data":{"name":"curves"},
 "mark":{"type":"line","stroke":"#55576b","strokeWidth":3,"strokeJoin":"round","strokeCap":"round","interpolate":"catmull-rom"},
 "encoding":{"x":{"field":"x","type":"quantitative","scale":{"domain":[0,1568],"nice":false,"zero":false},"axis":null},
  "y":{"field":"y","type":"quantitative","scale":{"domain":[0,1003],"nice":false,"zero":false,"reverse":true},"axis":null},
  "detail":{"field":"s","type":"nominal"},"order":{"value":null}}},
{"data":{"name":"labels"},
 "mark":{"type":"text","align":"left","baseline":"middle","font":"DejaVu Sans Condensed, DejaVu Sans, sans-serif","fontSize":37,"fill":"#6e7080"},
 "encoding":{"x":{"field":"x","type":"quantitative","scale":{"domain":[0,1568],"nice":false,"zero":false},"axis":null},
  "y":{"field":"y","type":"quantitative","scale":{"domain":[0,1003],"nice":false,"zero":false,"reverse":true},"axis":null},
  "text":{"field":"t","type":"nominal"}}},
{"data":{"values":[{"t":"0+00","x":1157,"y":9.3},{"t":"0+00","x":1157,"y":997}]},
 "mark":{"type":"text","align":"center","baseline":"middle","font":"DejaVu Sans Mono","fontWeight":"bold","fontSize":22,"fill":"#4a4a55"},
 "encoding":{"x":{"field":"x","type":"quantitative","scale":{"domain":[0,1568],"nice":false,"zero":false},"axis":null},
  "y":{"field":"y","type":"quantitative","scale":{"domain":[0,1003],"nice":false,"zero":false,"reverse":true},"axis":null},
  "text":{"field":"t","type":"nominal"}}},
{"data":{"values":[{"t":"180","x":5,"y":845}]},
 "mark":{"type":"text","align":"left","baseline":"middle","font":"DejaVu Sans Condensed, DejaVu Sans","fontStyle":"italic","fontSize":46,"fill":"#34364a"},
 "encoding":{"x":{"field":"x","type":"quantitative","scale":{"domain":[0,1568],"nice":false,"zero":false},"axis":null},
  "y":{"field":"y","type":"quantitative","scale":{"domain":[0,1003],"nice":false,"zero":false,"reverse":true},"axis":null},
  "text":{"field":"t","type":"nominal"}}},
{"data":{"values":[{"t":"S.","x":39,"y":845}]},
 "mark":{"type":"text","align":"left","baseline":"middle","font":"DejaVu Sans Condensed, DejaVu Sans, sans-serif","fontSize":37,"fill":"#6e7080"},
 "encoding":{"x":{"field":"x","type":"quantitative","scale":{"domain":[0,1568],"nice":false,"zero":false},"axis":null},
  "y":{"field":"y","type":"quantitative","scale":{"domain":[0,1003],"nice":false,"zero":false,"reverse":true},"axis":null},
  "text":{"field":"t","type":"nominal"}}},
{"data":{"values":[{"t":"092","x":234,"y":1001}]},
 "mark":{"type":"text","align":"left","baseline":"bottom","font":"DejaVu Serif Condensed, DejaVu Serif, serif","fontWeight":"bold","fontSize":34,"fill":"#3a3c4c"},
 "encoding":{"x":{"field":"x","type":"quantitative","scale":{"domain":[0,1568],"nice":false,"zero":false},"axis":null},
  "y":{"field":"y","type":"quantitative","scale":{"domain":[0,1003],"nice":false,"zero":false,"reverse":true},"axis":null},
  "text":{"field":"t","type":"nominal"}}},
{"data":{"values":[{"t":"131","x":260,"y":1001}]},
 "mark":{"type":"text","align":"left","baseline":"bottom","font":"DejaVu Serif Condensed, DejaVu Serif, serif","fontWeight":"bold","fontSize":30,"fill":"#3a3c4c"},
 "encoding":{"x":{"field":"x","type":"quantitative","scale":{"domain":[0,1568],"nice":false,"zero":false},"axis":null},
  "y":{"field":"y","type":"quantitative","scale":{"domain":[0,1003],"nice":false,"zero":false,"reverse":true},"axis":null},
  "text":{"field":"t","type":"nominal"}}}
]
}
